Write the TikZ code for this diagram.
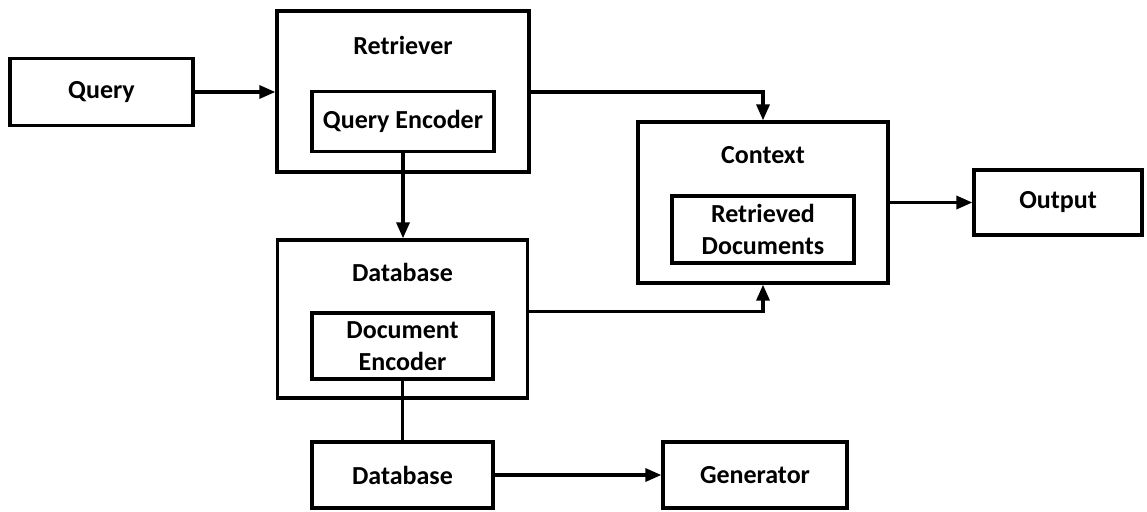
\documentclass[tikz,border=0pt]{standalone}
\usepackage{fontspec}
\setmainfont{Carlito}
\usetikzlibrary{arrows.meta}
\begin{document}
\begin{tikzpicture}[x=1pt,y=-1pt,
  box/.style={draw=black,line width=3.3pt,fill=white,inner sep=0pt,align=center,
    font=\bfseries\fontsize{26}{32}\selectfont},
  lbl/.style={inner sep=0pt,font=\bfseries\fontsize{26}{32}\selectfont},
  link/.style={draw=black,line width=3.3pt},
  arr/.style={link,-{Triangle[length=16pt,width=13pt]}}]
\useasboundingbox (0,0) rectangle (1147,511);

% left column
\node[box,minimum width=183pt,minimum height=67pt] (query) at (101.5,92) {Query};
\node[box,minimum width=252pt,minimum height=161pt] (retr) at (403,91.5) {};
\node[lbl] (retrlbl) at (403,45) {Retriever};
\node[box,minimum width=182pt,minimum height=60pt] (qenc) at (403,121.5) {Query Encoder};

\node[box,minimum width=250pt,minimum height=158pt] (db) at (402.5,319) {};
\node[lbl] (dblbl) at (402.5,272) {Database};
\node[box,minimum width=181pt,minimum height=66pt] (denc) at (402.5,346) {Document\\Encoder};

\node[box,minimum width=181pt,minimum height=66pt] (store) at (402.5,475) {Database};
\node[box,minimum width=184pt,minimum height=66pt] (gen) at (755,475) {Generator};

% right part
\node[box,minimum width=250pt,minimum height=161pt] (ctx) at (763,202.5) {};
\node[lbl] (ctxlbl) at (763,155) {Context};
\node[box,minimum width=182pt,minimum height=67pt] (docs) at (763,229.5) {Retrieved\\Documents};
\node[box,minimum width=168pt,minimum height=65pt] (out) at (1058,202.5) {Output};

% connectors
\draw[arr] (query.east) -- (query.east -| retr.west);
\draw[arr] (qenc.south) -- (qenc.south |- db.north);
\draw[arr] (query.east -| retr.east) -| (ctx.north);
\draw[arr] (denc.north -| db.east) -| (ctx.south);
\draw[arr] (ctx.east) -- (out.west);
\draw[link] (denc.south) -- (store.north);
\draw[arr] (store.east) -- (gen.west);
\end{tikzpicture}
\end{document}
